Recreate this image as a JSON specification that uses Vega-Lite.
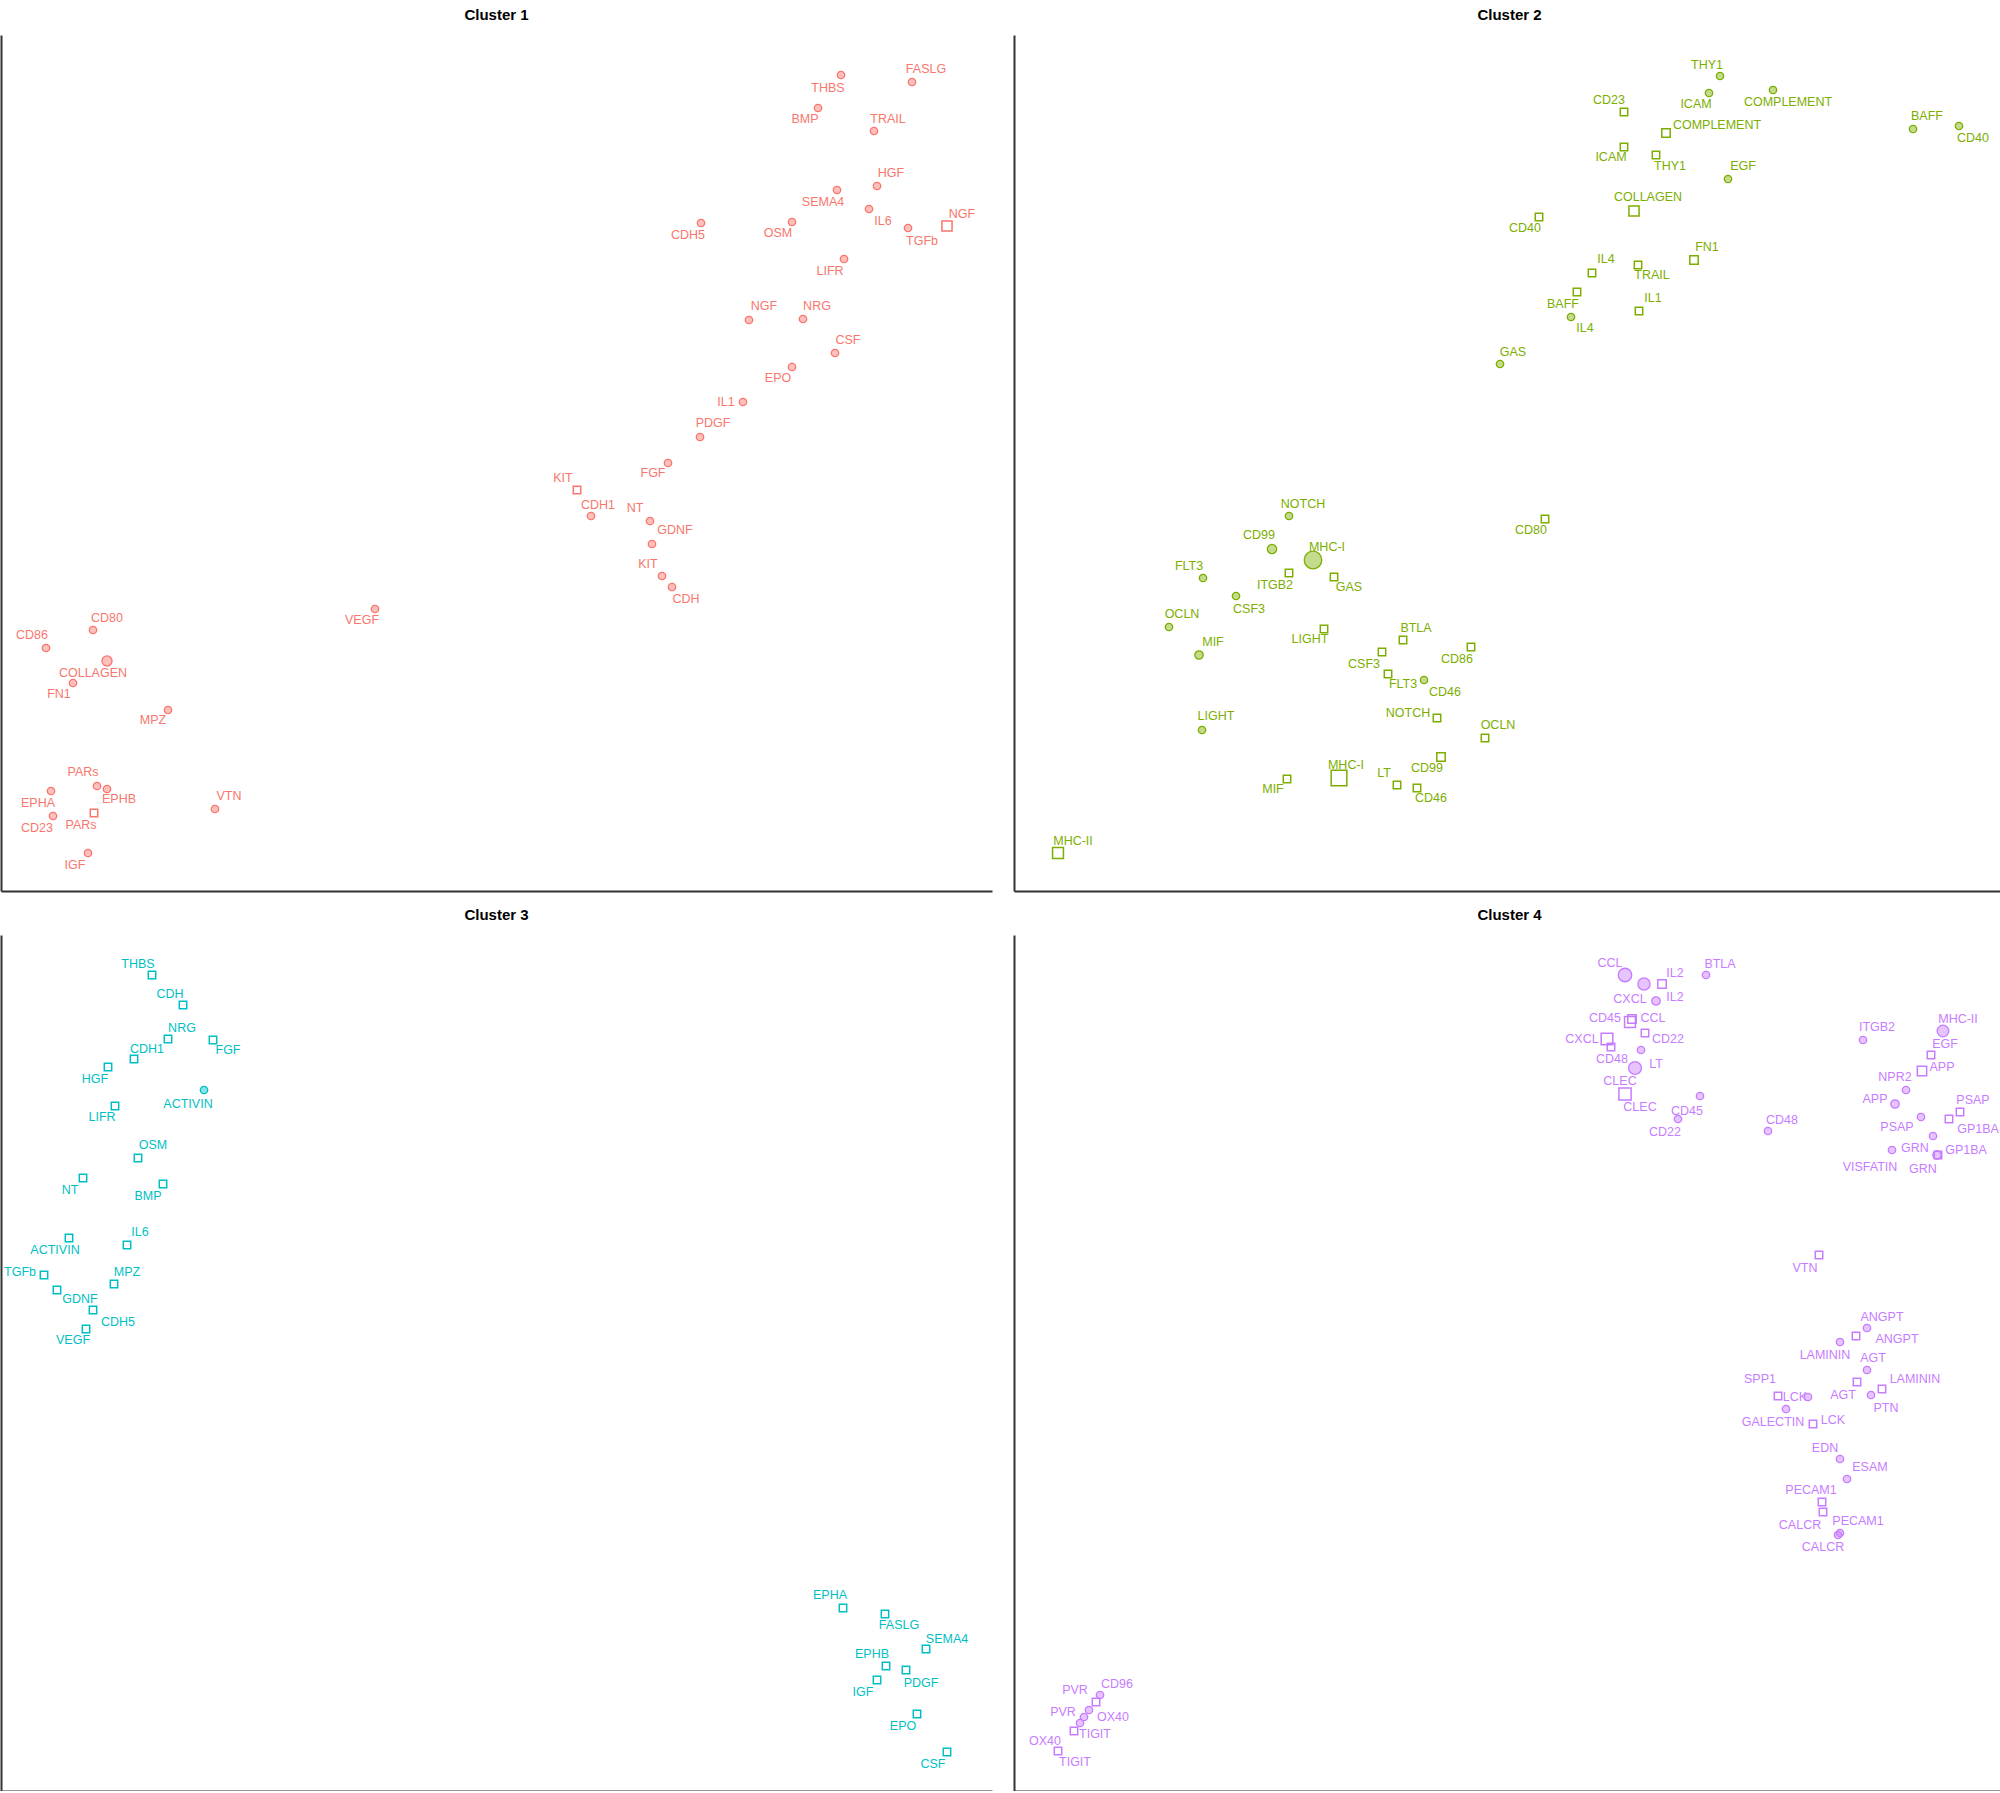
{
"$schema":"https://vega.github.io/schema/vega-lite/v6.json",
"padding":{"left":1,"top":8,"right":0,"bottom":0},
"background":"white",
"bounds":"flush",
"spacing":{"row":44,"column":22},
"columns":2,
"data":{"values":[
{"c":1,"p":"FASLG","t":"circle","x":91.1,"y":80.9,"n":1,"lx":92.5,"ly":82.2},
{"c":1,"p":"THBS","t":"circle","x":84.0,"y":81.6,"n":1,"lx":82.7,"ly":80.3},
{"c":1,"p":"BMP","t":"circle","x":81.7,"y":78.3,"n":1,"lx":80.4,"ly":77.2},
{"c":1,"p":"TRAIL","t":"circle","x":87.3,"y":76.0,"n":1,"lx":88.7,"ly":77.2},
{"c":1,"p":"HGF","t":"circle","x":87.6,"y":70.5,"n":1,"lx":89.0,"ly":71.8},
{"c":1,"p":"SEMA4","t":"circle","x":83.6,"y":70.1,"n":1,"lx":82.2,"ly":68.9},
{"c":1,"p":"IL6","t":"circle","x":86.8,"y":68.2,"n":1,"lx":88.2,"ly":67.0},
{"c":1,"p":"TGFb","t":"circle","x":90.7,"y":66.3,"n":1,"lx":92.1,"ly":65.0},
{"c":1,"p":"NGF","t":"square","x":94.6,"y":66.5,"n":2.5,"lx":96.1,"ly":67.7},
{"c":1,"p":"CDH5","t":"circle","x":70.0,"y":66.8,"n":1,"lx":68.7,"ly":65.6},
{"c":1,"p":"OSM","t":"circle","x":79.1,"y":66.9,"n":1,"lx":77.7,"ly":65.8},
{"c":1,"p":"LIFR","t":"circle","x":84.3,"y":63.2,"n":1,"lx":82.9,"ly":62.0},
{"c":1,"p":"NGF","t":"circle","x":74.8,"y":57.1,"n":1,"lx":76.3,"ly":58.5},
{"c":1,"p":"NRG","t":"circle","x":80.2,"y":57.2,"n":1,"lx":81.6,"ly":58.5},
{"c":1,"p":"CSF","t":"circle","x":83.4,"y":53.8,"n":1,"lx":84.7,"ly":55.1},
{"c":1,"p":"EPO","t":"circle","x":79.1,"y":52.4,"n":1,"lx":77.7,"ly":51.3},
{"c":1,"p":"IL1","t":"circle","x":74.2,"y":48.9,"n":1,"lx":72.5,"ly":48.9},
{"c":1,"p":"PDGF","t":"circle","x":69.9,"y":45.4,"n":1,"lx":71.2,"ly":46.8},
{"c":1,"p":"FGF","t":"circle","x":66.7,"y":42.8,"n":1,"lx":65.2,"ly":41.8},
{"c":1,"p":"KIT","t":"square","x":57.6,"y":40.1,"n":1,"lx":56.2,"ly":41.3},
{"c":1,"p":"CDH1","t":"circle","x":59.0,"y":37.5,"n":1,"lx":59.7,"ly":38.6},
{"c":1,"p":"NT","t":"circle","x":64.9,"y":37.0,"n":1,"lx":63.4,"ly":38.3},
{"c":1,"p":"GDNF","t":"circle","x":65.1,"y":34.7,"n":1,"lx":67.4,"ly":36.1},
{"c":1,"p":"KIT","t":"circle","x":66.1,"y":31.5,"n":1,"lx":64.7,"ly":32.7},
{"c":1,"p":"CDH","t":"circle","x":67.1,"y":30.4,"n":1,"lx":68.5,"ly":29.2},
{"c":1,"p":"VEGF","t":"circle","x":37.4,"y":28.2,"n":1,"lx":36.1,"ly":27.1},
{"c":1,"p":"CD80","t":"circle","x":9.2,"y":26.1,"n":1,"lx":10.6,"ly":27.3},
{"c":1,"p":"CD86","t":"circle","x":4.5,"y":24.3,"n":1,"lx":3.1,"ly":25.6},
{"c":1,"p":"COLLAGEN","t":"circle","x":10.6,"y":23.0,"n":2.5,"lx":9.2,"ly":21.8},
{"c":1,"p":"FN1","t":"circle","x":7.2,"y":20.8,"n":1,"lx":5.8,"ly":19.7},
{"c":1,"p":"MPZ","t":"circle","x":16.7,"y":18.1,"n":1,"lx":15.2,"ly":17.1},
{"c":1,"p":"PARs","t":"circle","x":9.6,"y":10.5,"n":1,"lx":8.2,"ly":11.9},
{"c":1,"p":"EPHB","t":"circle","x":10.6,"y":10.2,"n":1,"lx":11.8,"ly":9.2},
{"c":1,"p":"EPHA","t":"circle","x":5.0,"y":10.0,"n":1,"lx":3.7,"ly":8.8},
{"c":1,"p":"PARs","t":"square","x":9.3,"y":7.8,"n":1,"lx":8.0,"ly":6.6},
{"c":1,"p":"CD23","t":"circle","x":5.2,"y":7.5,"n":1,"lx":3.6,"ly":6.3},
{"c":1,"p":"VTN","t":"circle","x":21.4,"y":8.2,"n":1,"lx":22.8,"ly":9.5},
{"c":1,"p":"IGF","t":"circle","x":8.7,"y":3.8,"n":1,"lx":7.4,"ly":2.6},
{"c":2,"p":"THY1","t":"circle","x":70.6,"y":81.5,"n":1,"lx":69.3,"ly":82.6},
{"c":2,"p":"ICAM","t":"circle","x":69.5,"y":79.8,"n":1,"lx":68.2,"ly":78.7},
{"c":2,"p":"COMPLEMENT","t":"circle","x":75.9,"y":80.1,"n":1,"lx":77.4,"ly":78.9},
{"c":2,"p":"CD23","t":"square","x":61.0,"y":77.9,"n":1,"lx":59.5,"ly":79.1},
{"c":2,"p":"COMPLEMENT","t":"square","x":65.2,"y":75.8,"n":1.5,"lx":70.3,"ly":76.6},
{"c":2,"p":"ICAM","t":"square","x":61.0,"y":74.4,"n":1,"lx":59.7,"ly":73.4},
{"c":2,"p":"THY1","t":"square","x":64.2,"y":73.6,"n":1,"lx":65.6,"ly":72.5},
{"c":2,"p":"EGF","t":"circle","x":71.4,"y":71.2,"n":1,"lx":72.9,"ly":72.5},
{"c":2,"p":"COLLAGEN","t":"square","x":62.0,"y":68.0,"n":2.5,"lx":63.4,"ly":69.4},
{"c":2,"p":"CD40","t":"square","x":52.5,"y":67.4,"n":1,"lx":51.1,"ly":66.3},
{"c":2,"p":"BAFF","t":"circle","x":89.9,"y":76.2,"n":1,"lx":91.3,"ly":77.5},
{"c":2,"p":"CD40","t":"circle","x":94.5,"y":76.5,"n":1,"lx":95.9,"ly":75.3},
{"c":2,"p":"FN1","t":"square","x":68.0,"y":63.1,"n":1.5,"lx":69.3,"ly":64.4},
{"c":2,"p":"IL4","t":"square","x":57.8,"y":61.8,"n":1,"lx":59.2,"ly":63.2},
{"c":2,"p":"TRAIL","t":"square","x":62.4,"y":62.6,"n":1,"lx":63.8,"ly":61.6},
{"c":2,"p":"BAFF","t":"square","x":56.3,"y":59.9,"n":1,"lx":54.9,"ly":58.7},
{"c":2,"p":"IL1","t":"square","x":62.5,"y":58.0,"n":1,"lx":63.9,"ly":59.3},
{"c":2,"p":"IL4","t":"circle","x":55.7,"y":57.4,"n":1,"lx":57.1,"ly":56.3},
{"c":2,"p":"GAS","t":"circle","x":48.6,"y":52.7,"n":1,"lx":49.9,"ly":53.9},
{"c":2,"p":"NOTCH","t":"circle","x":27.5,"y":37.5,"n":1,"lx":28.9,"ly":38.7},
{"c":2,"p":"CD99","t":"circle","x":25.8,"y":34.2,"n":2,"lx":24.5,"ly":35.6},
{"c":2,"p":"MHC-I","t":"circle","x":29.9,"y":33.1,"n":9,"lx":31.3,"ly":34.4},
{"c":2,"p":"ITGB2","t":"square","x":27.5,"y":31.8,"n":1,"lx":26.1,"ly":30.6},
{"c":2,"p":"GAS","t":"square","x":32.0,"y":31.4,"n":1,"lx":33.5,"ly":30.4},
{"c":2,"p":"FLT3","t":"circle","x":18.9,"y":31.3,"n":1,"lx":17.5,"ly":32.5},
{"c":2,"p":"CSF3","t":"circle","x":22.2,"y":29.5,"n":1,"lx":23.5,"ly":28.2},
{"c":2,"p":"OCLN","t":"circle","x":15.5,"y":26.4,"n":1,"lx":16.8,"ly":27.7},
{"c":2,"p":"LIGHT","t":"square","x":31.0,"y":26.2,"n":1,"lx":29.6,"ly":25.2},
{"c":2,"p":"BTLA","t":"square","x":38.9,"y":25.1,"n":1,"lx":40.2,"ly":26.3},
{"c":2,"p":"MIF","t":"circle","x":18.5,"y":23.6,"n":1.5,"lx":19.9,"ly":24.9},
{"c":2,"p":"CSF3","t":"square","x":36.8,"y":23.9,"n":1,"lx":35.0,"ly":22.7},
{"c":2,"p":"CD86","t":"square","x":45.7,"y":24.4,"n":1,"lx":44.3,"ly":23.2},
{"c":2,"p":"FLT3","t":"square","x":37.4,"y":21.7,"n":1,"lx":38.9,"ly":20.7},
{"c":2,"p":"CD46","t":"circle","x":41.0,"y":21.1,"n":1,"lx":43.1,"ly":19.9},
{"c":2,"p":"NOTCH","t":"square","x":42.3,"y":17.3,"n":1,"lx":39.4,"ly":17.8},
{"c":2,"p":"LIGHT","t":"circle","x":18.8,"y":16.1,"n":1,"lx":20.2,"ly":17.5},
{"c":2,"p":"OCLN","t":"square","x":47.1,"y":15.3,"n":1,"lx":48.4,"ly":16.6},
{"c":2,"p":"CD99","t":"square","x":42.7,"y":13.4,"n":1.5,"lx":41.3,"ly":12.3},
{"c":2,"p":"MHC-I","t":"square","x":32.5,"y":11.3,"n":7,"lx":33.2,"ly":12.6},
{"c":2,"p":"MIF","t":"square","x":27.3,"y":11.2,"n":1,"lx":25.9,"ly":10.2},
{"c":2,"p":"LT","t":"square","x":38.3,"y":10.6,"n":1,"lx":37.0,"ly":11.8},
{"c":2,"p":"CD46","t":"square","x":40.3,"y":10.3,"n":1,"lx":41.7,"ly":9.3},
{"c":2,"p":"MHC-II","t":"square","x":4.4,"y":3.8,"n":3,"lx":5.9,"ly":5.0},
{"c":2,"p":"CD80","t":"square","x":53.1,"y":37.2,"n":1,"lx":51.7,"ly":36.1},
{"c":3,"p":"THBS","t":"square","x":15.1,"y":81.6,"n":1,"lx":13.7,"ly":82.7},
{"c":3,"p":"CDH","t":"square","x":18.2,"y":78.6,"n":1,"lx":16.9,"ly":79.7},
{"c":3,"p":"NRG","t":"square","x":16.7,"y":75.2,"n":1,"lx":18.1,"ly":76.3},
{"c":3,"p":"FGF","t":"square","x":21.2,"y":75.1,"n":1,"lx":22.7,"ly":74.1},
{"c":3,"p":"CDH1","t":"square","x":13.3,"y":73.2,"n":1,"lx":14.6,"ly":74.2},
{"c":3,"p":"HGF","t":"square","x":10.7,"y":72.4,"n":1,"lx":9.4,"ly":71.2},
{"c":3,"p":"ACTIVIN","t":"circle","x":20.3,"y":70.1,"n":1,"lx":18.7,"ly":68.7},
{"c":3,"p":"LIFR","t":"square","x":11.4,"y":68.5,"n":1,"lx":10.1,"ly":67.4},
{"c":3,"p":"OSM","t":"square","x":13.7,"y":63.3,"n":1,"lx":15.2,"ly":64.6},
{"c":3,"p":"NT","t":"square","x":8.2,"y":61.3,"n":1,"lx":6.9,"ly":60.1},
{"c":3,"p":"BMP","t":"square","x":16.2,"y":60.7,"n":1,"lx":14.7,"ly":59.5},
{"c":3,"p":"IL6","t":"square","x":12.6,"y":54.6,"n":1,"lx":13.9,"ly":55.9},
{"c":3,"p":"ACTIVIN","t":"square","x":6.8,"y":55.3,"n":1,"lx":5.4,"ly":54.1},
{"c":3,"p":"TGFb","t":"square","x":4.3,"y":51.6,"n":1,"lx":1.9,"ly":51.9},
{"c":3,"p":"MPZ","t":"square","x":11.3,"y":50.7,"n":1,"lx":12.6,"ly":51.9},
{"c":3,"p":"GDNF","t":"square","x":5.6,"y":50.1,"n":1,"lx":7.9,"ly":49.2},
{"c":3,"p":"CDH5","t":"square","x":9.2,"y":48.1,"n":1,"lx":11.7,"ly":46.9},
{"c":3,"p":"VEGF","t":"square","x":8.5,"y":46.2,"n":1,"lx":7.2,"ly":45.1},
{"c":3,"p":"EPHA","t":"square","x":84.2,"y":18.3,"n":1,"lx":82.9,"ly":19.6},
{"c":3,"p":"FASLG","t":"square","x":88.4,"y":17.7,"n":1,"lx":89.8,"ly":16.6},
{"c":3,"p":"SEMA4","t":"square","x":92.5,"y":14.2,"n":1,"lx":94.6,"ly":15.2},
{"c":3,"p":"EPHB","t":"square","x":88.5,"y":12.5,"n":1,"lx":87.1,"ly":13.7},
{"c":3,"p":"PDGF","t":"square","x":90.5,"y":12.1,"n":1,"lx":92.0,"ly":10.8},
{"c":3,"p":"IGF","t":"square","x":87.6,"y":11.1,"n":1,"lx":86.2,"ly":9.9},
{"c":3,"p":"EPO","t":"square","x":91.6,"y":7.7,"n":1,"lx":90.2,"ly":6.5},
{"c":3,"p":"CSF","t":"square","x":94.6,"y":3.9,"n":1,"lx":93.2,"ly":2.7},
{"c":4,"p":"CCL","t":"circle","x":61.1,"y":81.6,"n":5,"lx":59.6,"ly":82.8},
{"c":4,"p":"CXCL","t":"circle","x":63.0,"y":80.7,"n":4,"lx":61.6,"ly":79.2},
{"c":4,"p":"IL2","t":"square","x":64.8,"y":80.7,"n":1.5,"lx":66.1,"ly":81.8},
{"c":4,"p":"IL2","t":"circle","x":64.2,"y":79.0,"n":1.5,"lx":66.1,"ly":79.4},
{"c":4,"p":"BTLA","t":"circle","x":69.2,"y":81.6,"n":1,"lx":70.6,"ly":82.7},
{"c":4,"p":"CD45","t":"square","x":61.6,"y":76.9,"n":3,"lx":59.1,"ly":77.3},
{"c":4,"p":"CCL","t":"square","x":61.8,"y":77.2,"n":1.5,"lx":63.9,"ly":77.3},
{"c":4,"p":"CD22","t":"square","x":63.1,"y":75.8,"n":1,"lx":65.4,"ly":75.2},
{"c":4,"p":"CXCL","t":"square","x":59.3,"y":75.2,"n":3.5,"lx":56.8,"ly":75.2},
{"c":4,"p":"CD48","t":"square","x":59.7,"y":74.4,"n":1,"lx":59.8,"ly":73.2},
{"c":4,"p":"LT","t":"circle","x":62.7,"y":74.1,"n":1,"lx":64.2,"ly":72.7},
{"c":4,"p":"CLEC","t":"circle","x":62.1,"y":72.3,"n":4.5,"lx":60.6,"ly":71.0},
{"c":4,"p":"CLEC","t":"square","x":61.1,"y":69.7,"n":4,"lx":62.6,"ly":68.4},
{"c":4,"p":"CD45","t":"circle","x":68.6,"y":69.5,"n":1,"lx":67.3,"ly":68.0},
{"c":4,"p":"CD22","t":"circle","x":66.4,"y":67.2,"n":1,"lx":65.1,"ly":65.9},
{"c":4,"p":"CD48","t":"circle","x":75.4,"y":66.0,"n":1,"lx":76.8,"ly":67.1},
{"c":4,"p":"ITGB2","t":"circle","x":84.9,"y":75.1,"n":1,"lx":86.3,"ly":76.4},
{"c":4,"p":"MHC-II","t":"circle","x":92.9,"y":76.0,"n":3.5,"lx":94.4,"ly":77.2},
{"c":4,"p":"EGF","t":"square","x":91.7,"y":73.6,"n":1,"lx":93.1,"ly":74.7},
{"c":4,"p":"APP","t":"square","x":90.8,"y":72.0,"n":2,"lx":92.8,"ly":72.4},
{"c":4,"p":"NPR2","t":"circle","x":89.2,"y":70.1,"n":1,"lx":88.1,"ly":71.4},
{"c":4,"p":"APP","t":"circle","x":88.1,"y":68.7,"n":1.5,"lx":86.1,"ly":69.2},
{"c":4,"p":"PSAP","t":"circle","x":90.7,"y":67.4,"n":1,"lx":88.3,"ly":66.4},
{"c":4,"p":"PSAP","t":"square","x":94.6,"y":67.9,"n":1,"lx":95.9,"ly":69.1},
{"c":4,"p":"GP1BA","t":"square","x":93.5,"y":67.2,"n":1,"lx":96.4,"ly":66.2},
{"c":4,"p":"GRN","t":"circle","x":91.9,"y":65.5,"n":1,"lx":90.1,"ly":64.3},
{"c":4,"p":"GP1BA","t":"circle","x":92.3,"y":63.6,"n":1.5,"lx":95.2,"ly":64.1},
{"c":4,"p":"GRN","t":"square","x":92.4,"y":63.6,"n":1,"lx":90.9,"ly":62.2},
{"c":4,"p":"VISFATIN","t":"circle","x":87.8,"y":64.1,"n":1,"lx":85.6,"ly":62.4},
{"c":4,"p":"VTN","t":"square","x":80.5,"y":53.6,"n":1,"lx":79.1,"ly":52.3},
{"c":4,"p":"ANGPT","t":"circle","x":85.3,"y":46.3,"n":1,"lx":86.8,"ly":47.4},
{"c":4,"p":"ANGPT","t":"square","x":84.2,"y":45.5,"n":1,"lx":88.3,"ly":45.2},
{"c":4,"p":"LAMININ","t":"circle","x":82.6,"y":44.9,"n":1,"lx":81.1,"ly":43.6},
{"c":4,"p":"AGT","t":"circle","x":85.3,"y":42.1,"n":1,"lx":85.9,"ly":43.3},
{"c":4,"p":"AGT","t":"square","x":84.3,"y":40.9,"n":1,"lx":82.9,"ly":39.6},
{"c":4,"p":"LAMININ","t":"square","x":86.8,"y":40.2,"n":1,"lx":90.1,"ly":41.2},
{"c":4,"p":"PTN","t":"circle","x":85.7,"y":39.6,"n":1,"lx":87.2,"ly":38.3},
{"c":4,"p":"SPP1","t":"square","x":76.4,"y":39.5,"n":1,"lx":74.6,"ly":41.2},
{"c":4,"p":"LCK","t":"circle","x":79.4,"y":39.4,"n":1,"lx":78.1,"ly":39.4},
{"c":4,"p":"GALECTIN","t":"circle","x":77.2,"y":38.2,"n":1,"lx":75.9,"ly":36.9},
{"c":4,"p":"LCK","t":"square","x":79.9,"y":36.7,"n":1,"lx":81.9,"ly":37.1},
{"c":4,"p":"EDN","t":"circle","x":82.6,"y":33.2,"n":1,"lx":81.1,"ly":34.3},
{"c":4,"p":"ESAM","t":"circle","x":83.3,"y":31.2,"n":1,"lx":85.6,"ly":32.4},
{"c":4,"p":"PECAM1","t":"square","x":80.8,"y":28.9,"n":1,"lx":79.7,"ly":30.1},
{"c":4,"p":"CALCR","t":"square","x":80.9,"y":27.9,"n":1,"lx":78.6,"ly":26.6},
{"c":4,"p":"PECAM1","t":"circle","x":82.6,"y":25.8,"n":1,"lx":84.4,"ly":27.0},
{"c":4,"p":"CALCR","t":"circle","x":82.4,"y":25.6,"n":1,"lx":80.9,"ly":24.4},
{"c":4,"p":"CD96","t":"circle","x":8.6,"y":9.6,"n":1,"lx":10.3,"ly":10.7},
{"c":4,"p":"PVR","t":"square","x":8.2,"y":8.9,"n":1,"lx":6.1,"ly":10.1},
{"c":4,"p":"PVR","t":"circle","x":7.5,"y":8.1,"n":1,"lx":4.9,"ly":7.9},
{"c":4,"p":"OX40","t":"circle","x":7.0,"y":7.4,"n":1,"lx":9.9,"ly":7.4},
{"c":4,"p":"TIGIT","t":"circle","x":6.6,"y":6.8,"n":1,"lx":8.1,"ly":5.7},
{"c":4,"p":"OX40","t":"square","x":6.0,"y":6.0,"n":1,"lx":3.1,"ly":5.0},
{"c":4,"p":"TIGIT","t":"square","x":4.4,"y":4.0,"n":1,"lx":6.1,"ly":2.9}
]},
"concat":[
{"title":{"text":"Cluster 1"},"width":991,"height":856,
 "transform":[{"filter":"datum.c==1"}],
 "encoding":{
  "x":{"field":"x","type":"quantitative","title":null,"scale":{"domain":[0,99.1],"nice":false,"zero":false}},
  "y":{"field":"y","type":"quantitative","title":null,"scale":{"domain":[0,85.6],"nice":false,"zero":false}}},
 "layer":[
  {"transform":[{"filter":"datum.t=='circle'"}],"mark":{"type":"point","shape":"circle","filled":true,"fill":"#F8766D","fillOpacity":0.45,"stroke":"#F8766D","strokeWidth":1.3,"strokeOpacity":1},"encoding":{"size":{"field":"n","type":"quantitative","legend":null,"scale":{"domain":[1,10],"range":[55,340]}}}},
  {"transform":[{"filter":"datum.t=='square'"}],"mark":{"type":"point","shape":"square","filled":false,"stroke":"#F8766D","strokeWidth":1.5,"opacity":1},"encoding":{"size":{"field":"n","type":"quantitative","legend":null,"scale":{"domain":[1,10],"range":[55,340]}}}},
  {"mark":{"type":"text","color":"#F8766D","fontSize":12.5,"font":"Liberation Sans"},"encoding":{"x":{"field":"lx","type":"quantitative"},"y":{"field":"ly","type":"quantitative"},"text":{"field":"p"}}}
 ]},
{"title":{"text":"Cluster 2"},"width":991,"height":856,
 "transform":[{"filter":"datum.c==2"}],
 "encoding":{
  "x":{"field":"x","type":"quantitative","title":null,"scale":{"domain":[0,99.1],"nice":false,"zero":false}},
  "y":{"field":"y","type":"quantitative","title":null,"scale":{"domain":[0,85.6],"nice":false,"zero":false}}},
 "layer":[
  {"transform":[{"filter":"datum.t=='circle'"}],"mark":{"type":"point","shape":"circle","filled":true,"fill":"#7CAE00","fillOpacity":0.45,"stroke":"#7CAE00","strokeWidth":1.3,"strokeOpacity":1},"encoding":{"size":{"field":"n","type":"quantitative","legend":null,"scale":{"domain":[1,10],"range":[55,340]}}}},
  {"transform":[{"filter":"datum.t=='square'"}],"mark":{"type":"point","shape":"square","filled":false,"stroke":"#7CAE00","strokeWidth":1.5,"opacity":1},"encoding":{"size":{"field":"n","type":"quantitative","legend":null,"scale":{"domain":[1,10],"range":[55,340]}}}},
  {"mark":{"type":"text","color":"#7CAE00","fontSize":12.5,"font":"Liberation Sans"},"encoding":{"x":{"field":"lx","type":"quantitative"},"y":{"field":"ly","type":"quantitative"},"text":{"field":"p"}}}
 ]},
{"title":{"text":"Cluster 3"},"width":991,"height":856,
 "transform":[{"filter":"datum.c==3"}],
 "encoding":{
  "x":{"field":"x","type":"quantitative","title":null,"scale":{"domain":[0,99.1],"nice":false,"zero":false}},
  "y":{"field":"y","type":"quantitative","title":null,"scale":{"domain":[0,85.6],"nice":false,"zero":false}}},
 "layer":[
  {"transform":[{"filter":"datum.t=='circle'"}],"mark":{"type":"point","shape":"circle","filled":true,"fill":"#00BFC4","fillOpacity":0.45,"stroke":"#00BFC4","strokeWidth":1.3,"strokeOpacity":1},"encoding":{"size":{"field":"n","type":"quantitative","legend":null,"scale":{"domain":[1,10],"range":[55,340]}}}},
  {"transform":[{"filter":"datum.t=='square'"}],"mark":{"type":"point","shape":"square","filled":false,"stroke":"#00BFC4","strokeWidth":1.5,"opacity":1},"encoding":{"size":{"field":"n","type":"quantitative","legend":null,"scale":{"domain":[1,10],"range":[55,340]}}}},
  {"mark":{"type":"text","color":"#00BFC4","fontSize":12.5,"font":"Liberation Sans"},"encoding":{"x":{"field":"lx","type":"quantitative"},"y":{"field":"ly","type":"quantitative"},"text":{"field":"p"}}}
 ]},
{"title":{"text":"Cluster 4"},"width":991,"height":856,
 "transform":[{"filter":"datum.c==4"}],
 "encoding":{
  "x":{"field":"x","type":"quantitative","title":null,"scale":{"domain":[0,99.1],"nice":false,"zero":false}},
  "y":{"field":"y","type":"quantitative","title":null,"scale":{"domain":[0,85.6],"nice":false,"zero":false}}},
 "layer":[
  {"transform":[{"filter":"datum.t=='circle'"}],"mark":{"type":"point","shape":"circle","filled":true,"fill":"#C77CFF","fillOpacity":0.45,"stroke":"#C77CFF","strokeWidth":1.3,"strokeOpacity":1},"encoding":{"size":{"field":"n","type":"quantitative","legend":null,"scale":{"domain":[1,10],"range":[55,340]}}}},
  {"transform":[{"filter":"datum.t=='square'"}],"mark":{"type":"point","shape":"square","filled":false,"stroke":"#C77CFF","strokeWidth":1.5,"opacity":1},"encoding":{"size":{"field":"n","type":"quantitative","legend":null,"scale":{"domain":[1,10],"range":[55,340]}}}},
  {"mark":{"type":"text","color":"#C77CFF","fontSize":12.5,"font":"Liberation Sans"},"encoding":{"x":{"field":"lx","type":"quantitative"},"y":{"field":"ly","type":"quantitative"},"text":{"field":"p"}}}
 ]}
],
"resolve":{"scale":{"size":"independent"}},
"config":{
 "view":{"stroke":null},
 "axis":{"ticks":false,"labels":false,"grid":false,"domainColor":"#333333","domainWidth":2,"title":null},
 "title":{"font":"Liberation Sans","fontSize":15,"fontWeight":"bold","color":"#000000","anchor":"middle","frame":"group","baseline":"alphabetic","offset":12}
}
}
